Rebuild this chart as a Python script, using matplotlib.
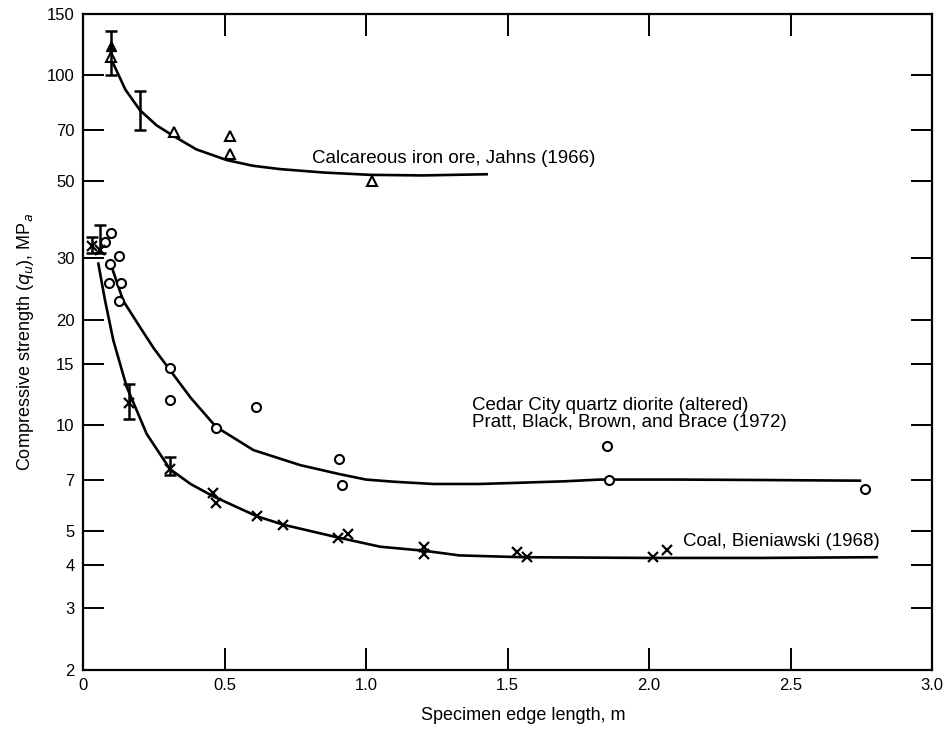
import matplotlib
matplotlib.use("Agg")
import matplotlib.pyplot as plt
from matplotlib.ticker import FixedLocator, NullLocator

plt.rcParams['font.family'] = ['Liberation Sans', 'DejaVu Sans']

# --- iron ore (triangles) ---
iron_x = [0.10, 0.32, 0.52, 0.52, 1.02]
iron_y = [113, 69, 67, 59.6, 50]
iron_fill_x = [0.10]
iron_fill_y = [121]
iron_err_x = [0.10, 0.20]
iron_err_lo = [100, 70]
iron_err_hi = [134, 90]
iron_curve_x = [0.107, 0.15, 0.201, 0.26, 0.319, 0.40, 0.508, 0.60, 0.696, 0.85, 1.014, 1.2, 1.426]
iron_curve_y = [108, 91, 79.6, 72, 67.2, 61.5, 57.3, 55.2, 54.0, 52.8, 52.0, 51.8, 52.2]

# --- Cedar City quartz diorite (circles) ---
dio_x = [0.098, 0.078, 0.128, 0.095, 0.093, 0.133, 0.127, 0.307, 0.307, 0.611,
         0.47, 0.906, 0.914, 1.85, 1.86, 2.763]
dio_y = [35.5, 33.4, 30.5, 29, 25.6, 25.6, 22.6, 14.6, 11.8, 11.3,
         9.8, 8.0, 6.75, 8.75, 6.98, 6.6]
dio_err_x = [0.06]
dio_err_lo = [31.0]
dio_err_hi = [37.3]
dio_curve_x = [0.101, 0.142, 0.201, 0.25, 0.296, 0.38, 0.47, 0.602, 0.767, 0.908,
               1.0, 1.1, 1.238, 1.4, 1.53, 1.7, 1.827, 2.1, 2.4, 2.745]
dio_curve_y = [28.4, 22.7, 19.1, 16.6, 14.8, 12.0, 9.9, 8.5, 7.7, 7.25,
               7.0, 6.9, 6.8, 6.8, 6.85, 6.92, 7.0, 7.0, 6.98, 6.95]

# --- coal (x marks) ---
coal_x = [0.03, 0.06, 0.163, 0.307, 0.46, 0.47, 0.613, 0.708, 0.902, 0.937,
          1.205, 1.205, 1.532, 1.568, 2.015, 2.062]
coal_y = [32.5, 31.7, 11.6, 7.5, 6.4, 6.0, 5.5, 5.2, 4.78, 4.9,
          4.5, 4.3, 4.35, 4.2, 4.2, 4.4]
coal_err_x = [0.03, 0.163, 0.307]
coal_err_lo = [31.0, 10.4, 7.2]
coal_err_hi = [34.5, 13.1, 8.1]
coal_curve_x = [0.054, 0.078, 0.107, 0.154, 0.225, 0.307, 0.38, 0.46, 0.614, 0.708,
                0.902, 1.05, 1.208, 1.33, 1.55, 2.0, 2.4, 2.804]
coal_curve_y = [29.0, 22.7, 17.5, 12.9, 9.45, 7.5, 6.8, 6.27, 5.5, 5.2,
                4.78, 4.5, 4.38, 4.25, 4.2, 4.18, 4.18, 4.2]

yticks = [2, 3, 4, 5, 7, 10, 15, 20, 30, 50, 70, 100, 150]
xticks = [0, 0.5, 1.0, 1.5, 2.0, 2.5, 3.0]
xticklabels = ['0', '0.5', '1.0', '1.5', '2.0', '2.5', '3.0']

fig = plt.figure(figsize=(9.48, 7.29), dpi=100)
ax = fig.add_axes([0.0876, 0.081, 0.8956, 0.9])

lw = 1.9
ax.plot(iron_curve_x, iron_curve_y, color='black', lw=lw)
ax.plot(dio_curve_x, dio_curve_y, color='black', lw=lw)
ax.plot(coal_curve_x, coal_curve_y, color='black', lw=lw)

ax.plot(iron_x, iron_y, linestyle='none', marker='^', ms=7, mfc='white', mec='black', mew=1.5)
ax.plot(iron_fill_x, iron_fill_y, linestyle='none', marker='^', ms=7, mfc='black', mec='black')
ax.plot(dio_x, dio_y, linestyle='none', marker='o', ms=6.5, mfc='white', mec='black', mew=1.5)
ax.plot(coal_x, coal_y, linestyle='none', marker='x', ms=7, mec='black', mew=1.6)

def draw_err(xs, lo, hi):
    for x, a, b in zip(xs, lo, hi):
        ax.vlines(x, a, b, color='black', lw=1.8)
        ax.plot([x, x], [a, b], linestyle='none', marker='_', ms=9, mew=1.8, color='black')

draw_err(iron_err_x, iron_err_lo, iron_err_hi)
draw_err(dio_err_x, dio_err_lo, dio_err_hi)
draw_err(coal_err_x, coal_err_lo, coal_err_hi)

ax.set_yscale('log')
ax.set_xlim(0, 3.0)
ax.set_ylim(2, 150)
ax.yaxis.set_major_locator(FixedLocator(yticks))
ax.yaxis.set_minor_locator(NullLocator())
ax.set_yticklabels([str(v) for v in yticks])
ax.set_xticks(xticks)
ax.set_xticklabels(xticklabels)

ax.tick_params(axis='both', direction='in', top=True, right=True,
               width=1.4, labelsize=12, colors='black')
ax.tick_params(axis='y', length=15, pad=6)
ax.tick_params(axis='x', length=16, pad=6)
for s in ax.spines.values():
    s.set_linewidth(1.6)

ax.set_xlabel('Specimen edge length, m', fontsize=13, labelpad=10)
ax.xaxis.label.set_x(0.518)
ax.set_ylabel(r'Compressive strength ($q_u$), MP$_a$', fontsize=13, labelpad=8)

ax.text(0.81, 58, 'Calcareous iron ore, Jahns (1966)', fontsize=13.5, va='center')
ax.text(1.375, 11.4, 'Cedar City quartz diorite (altered)', fontsize=13.5, va='center')
ax.text(1.375, 10.2, 'Pratt, Black, Brown, and Brace (1972)', fontsize=13.5, va='center')
ax.text(2.12, 4.65, 'Coal, Bieniawski (1968)', fontsize=13.5, va='center')

fig.savefig('out.png', dpi=100)
